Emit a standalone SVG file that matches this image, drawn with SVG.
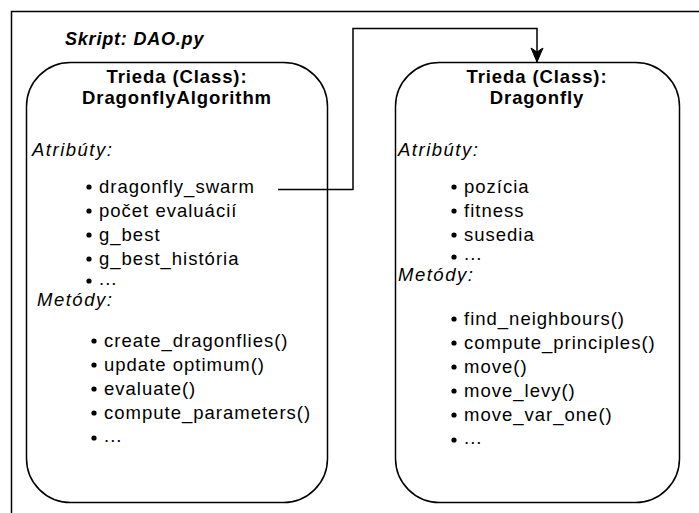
<svg xmlns="http://www.w3.org/2000/svg" width="699" height="513" viewBox="0 0 699 513">
<defs>
<style>
.frame{fill:none;stroke:#000;stroke-width:1.5}
.box{fill:#fff;stroke:#000;stroke-width:1.5}
.t{font-family:"Liberation Sans",Arial,sans-serif;fill:#000}
.title{font-size:18.5px;font-weight:bold;text-anchor:middle;letter-spacing:0.9px}
.script{font-size:18px;font-weight:bold;font-style:italic;letter-spacing:0.8px}
.sec{font-size:18.5px;font-style:italic;letter-spacing:1.5px}
.item{font-size:18.5px;letter-spacing:1px}
.dot{fill:#000}
.conn{fill:none;stroke:#000;stroke-width:1.5}
</style>
<marker id="arrow" markerUnits="userSpaceOnUse" markerWidth="16" markerHeight="14" refX="15" refY="7" orient="auto" viewBox="0 0 16 14" overflow="visible">
<path d="M1,1 L15,7 L1,13 L5,7 Z" fill="#000" stroke="#000" stroke-width="1"/>
</marker>
</defs>
<rect width="699" height="513" fill="#fff"/>
<g id="frame">
<path class="frame" d="M11.5,513 V11.5 H699"/>
<text class="t script" x="65" y="45">Skript: DAO.py</text>
</g>
<g id="dragonflyalgorithm">
<rect class="box" x="26.5" y="62.5" width="301" height="440" rx="44" ry="44"/>
<text class="t title" x="177" y="83">Trieda (Class):</text>
<text class="t title" x="177" y="104">DragonflyAlgorithm</text>
<text class="t sec" x="32" y="156">Atribúty:</text>
<circle class="dot" cx="89" cy="187" r="2.6"/><text class="t item" x="99" y="193">dragonfly_swarm</text>
<circle class="dot" cx="89" cy="211" r="2.6"/><text class="t item" x="99" y="217">počet evaluácií</text>
<circle class="dot" cx="89" cy="235" r="2.6"/><text class="t item" x="99" y="241">g_best</text>
<circle class="dot" cx="89" cy="259" r="2.6"/><text class="t item" x="99" y="265">g_best_história</text>
<circle class="dot" cx="89" cy="281" r="2.6"/><text class="t item" x="99" y="285">...</text>
<text class="t sec" x="37" y="305.5">Metódy:</text>
<circle class="dot" cx="94" cy="341" r="2.6"/><text class="t item" x="104" y="347">create_dragonflies()</text>
<circle class="dot" cx="94" cy="365" r="2.6"/><text class="t item" x="104" y="371">update optimum()</text>
<circle class="dot" cx="94" cy="389" r="2.6"/><text class="t item" x="104" y="395">evaluate()</text>
<circle class="dot" cx="94" cy="413" r="2.6"/><text class="t item" x="104" y="419">compute_parameters()</text>
<circle class="dot" cx="94" cy="438" r="2.6"/><text class="t item" x="104" y="442">...</text>
</g>
<g id="dragonfly">
<rect class="box" x="395.5" y="62.5" width="284" height="440" rx="44" ry="44"/>
<text class="t title" x="537" y="83">Trieda (Class):</text>
<text class="t title" x="537" y="104">Dragonfly</text>
<text class="t sec" x="398" y="156">Atribúty:</text>
<circle class="dot" cx="454" cy="187" r="2.6"/><text class="t item" x="464" y="193">pozícia</text>
<circle class="dot" cx="454" cy="211" r="2.6"/><text class="t item" x="464" y="217">fitness</text>
<circle class="dot" cx="454" cy="235" r="2.6"/><text class="t item" x="464" y="241">susedia</text>
<circle class="dot" cx="454" cy="257" r="2.6"/><text class="t item" x="464" y="260">...</text>
<text class="t sec" x="398" y="281">Metódy:</text>
<circle class="dot" cx="454" cy="319" r="2.6"/><text class="t item" x="464" y="325">find_neighbours()</text>
<circle class="dot" cx="454" cy="343" r="2.6"/><text class="t item" x="464" y="349">compute_principles()</text>
<circle class="dot" cx="454" cy="367" r="2.6"/><text class="t item" x="464" y="373">move()</text>
<circle class="dot" cx="454" cy="391" r="2.6"/><text class="t item" x="464" y="397">move_levy()</text>
<circle class="dot" cx="454" cy="415" r="2.6"/><text class="t item" x="464" y="421">move_var_one()</text>
<circle class="dot" cx="454" cy="440" r="2.6"/><text class="t item" x="464" y="444">...</text>
</g>
<g id="connectors">
<path class="conn" d="M278,189.5 H353 V28.5 H537 V62" marker-end="url(#arrow)"/>
</g>
</svg>
